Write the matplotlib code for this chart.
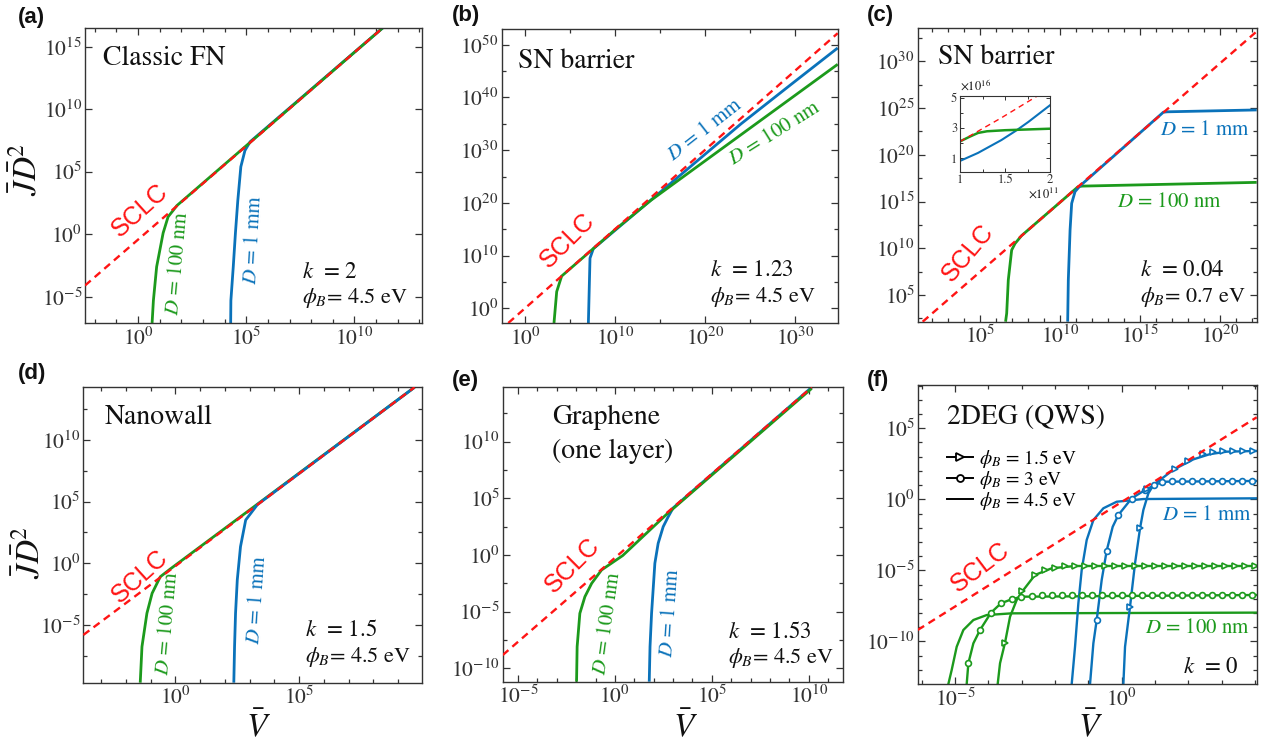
import numpy as np
import matplotlib
matplotlib.use('Agg')
import matplotlib.pyplot as plt
from matplotlib.lines import Line2D
from matplotlib.ticker import FixedLocator, FuncFormatter, NullFormatter

plt.rcParams['font.family'] = 'STIXGeneral'
plt.rcParams['mathtext.fontset'] = 'stix'

BLUE = '#0a72ba'
GREEN = '#1c9a1c'
RED = '#ff1414'
INK = '#111111'
TICK = '#333333'

# all curve values below are log10(V) / log10(J D^2)

# (a) classic FN, k = 2
a_sclc_x = [-2.45, 11.3]
a_sclc_y = [-4.1, 16.5]
a_green_x = [0.65, 0.71, 0.86, 1.16, 1.39, 1.62, 1.80, 11.3]
a_green_y = [-7.1, -5.3, -2.6, 0.1, 1.4, 1.9, 2.3, 16.5]
a_blue_x = [4.28, 4.29, 4.40, 4.50, 4.61, 4.75, 4.94, 5.18, 11.3]
a_blue_y = [-7.1, -5.3, -2.6, 0.1, 2.7, 5.4, 6.7, 7.4, 16.5]

# (b) SN barrier, k = 1.23
b_sclc_x = [-1.86, 34.74]
b_sclc_y = [-2.8, 52.2]
b_green_x = [3.22, 3.52, 4.07, 10.0, 14.0, 34.74]
b_green_y = [-2.8, 3.15, 6.1, 14.9, 20.5, 46.3]
b_blue_x = [7.04, 7.22, 7.59, 24.0, 29.5, 34.74]
b_blue_y = [-2.8, 9.5, 11.3, 35.0, 42.4, 49.4]

# (c) SN barrier, k = 0.04
c_sclc_x = [1.42, 22.29]
c_sclc_y = [2.14, 33.2]
c_green_x = [6.6, 6.67, 6.77, 6.98, 7.19, 7.6, 11.14, 11.4, 22.29]
c_green_y = [2.14, 3.04, 6.6, 9.8, 10.5, 11.35, 16.6, 16.65, 17.05]
c_blue_x = [10.48, 10.52, 10.63, 10.73, 10.94, 11.25, 16.46, 16.7, 22.29]
c_blue_y = [2.14, 6.6, 11.96, 14.8, 16.06, 16.67, 24.56, 24.6, 24.8]

# (c) inset, linear units (x 1e11, y 1e16)
ins_sclc_x = [1.0, 1.46, 1.87]
ins_sclc_y = [2.1, 3.67, 5.15]
ins_green_x = [1.0, 1.1, 1.2, 1.3, 1.5, 2.0]
ins_green_y = [2.11, 2.4, 2.67, 2.78, 2.85, 2.95]
ins_blue_x = [1.0, 1.2, 1.46, 1.63, 1.76, 2.0]
ins_blue_y = [0.82, 1.35, 2.2, 2.85, 3.4, 4.5]

# (d) nanowall, k = 1.5
d_sclc_x = [-3.72, 9.66]
d_sclc_y = [-5.81, 14.27]
d_green_x = [-1.42, -1.35, -1.15, -0.94, -0.61, -0.2, 9.66]
d_green_y = [-9.68, -6.76, -4.05, -2.43, -1.09, -0.45, 14.27]
d_blue_x = [2.36, 2.39, 2.43, 2.5, 2.63, 2.84, 3.31, 9.66]
d_blue_y = [-9.68, -6.76, -4.05, -1.35, 1.35, 3.51, 4.75, 14.27]

# (e) graphene, k = 1.53
e_sclc_x = [-5.79, 10.15]
e_sclc_y = [-8.83, 14.8]
e_green_x = [-1.98, -1.95, -1.81, -1.55, -1.2, -0.69, -0.2, 0.4, 2.67, 10.15]
e_green_y = [-11.18, -8.09, -5.15, -3.68, -2.5, -1.32, -0.75, -0.05, 3.6, 14.7]
e_blue_x = [1.77, 1.81, 1.89, 2.06, 2.23, 2.49, 2.75, 3.0, 10.15]
e_blue_y = [-11.18, -8.09, -5.15, -0.73, 1.03, 2.5, 3.38, 4.15, 14.8]

# (f) 2DEG (QWS), k = 0
f_sclc_x = [-6.12, 4.05]
f_sclc_y = [-9.19, 5.77]
# D = 1 mm
f_b45_x = [-1.5, -1.4, -1.3, -1.2, -1.05, -0.85, -0.55, -0.15, 0.65, 4.05]
f_b45_y = [-12.99, -10.37, -7.31, -4.97, -2.86, -1.46, -0.63, -0.17, 0.02, 0.07]
f_b30_x = [-0.95, -0.85, -0.75, -0.6, -0.45, -0.27, -0.1, 0.3, 0.7, 1.05, 1.35, 4.05]
f_b30_y = [-12.99, -10.13, -8.49, -5.67, -3.61, -1.93, -1.1, 0.07, 0.65, 1.08, 1.24, 1.29]
f_b30_mx = [-0.75, -0.45, -0.1, 0.3, 0.7, 0.98, 1.2, 1.5, 1.8, 2.1, 2.4, 2.7, 3.0, 3.3, 3.6, 3.9]
f_b30_my = [-8.49, -3.61, -1.1, 0.05, 0.65, 1.0, 1.2, 1.27, 1.29, 1.29, 1.29, 1.29, 1.29, 1.29, 1.29, 1.29]
f_b15_x = [0.05, 0.1, 0.25, 0.4, 0.55, 0.65, 0.8, 0.95, 1.55, 2.15, 2.65, 3.15, 4.05]
f_b15_y = [-12.99, -10.37, -7.55, -4.5, -2.04, -0.75, 0.42, 1.0, 2.08, 2.81, 3.18, 3.35, 3.4]
f_b15_mx = [0.25, 0.55, 0.75, 1.6, 2.0, 2.45, 2.75, 3.05, 3.35, 3.65, 3.95]
f_b15_my = [-7.55, -2.04, 0.7, 2.11, 2.71, 3.18, 3.3, 3.38, 3.4, 3.4, 3.4]
# D = 100 nm
f_g45_x = [-5.2, -5.1, -4.95, -4.75, -4.45, -4.05, -3.3, 4.05]
f_g45_y = [-12.99, -12.0, -10.37, -9.19, -8.49, -8.14, -8.02, -7.97]
f_g30_x = [-4.65, -4.6, -4.45, -4.25, -3.92, -3.62, -3.3, -3.0, 4.05]
f_g30_y = [-12.99, -11.53, -10.13, -9.19, -7.97, -7.31, -7.03, -6.85, -6.73]
f_g30_mx = [-4.6, -4.25, -3.92, -3.62, -3.3, -3.02, -2.7, -2.4, -2.1, -1.8, -1.5, -1.2,
            -0.9, -0.6, -0.3, 0.0, 0.3, 0.6, 0.9, 1.2, 1.5, 1.8, 2.1, 2.4, 2.7, 3.0,
            3.3, 3.6, 3.9]
f_g30_my = [-11.53, -9.19, -7.97, -7.31, -7.03, -6.85, -6.78, -6.76, -6.75, -6.74, -6.73,
            -6.73, -6.73, -6.73, -6.73, -6.73, -6.73, -6.73, -6.73, -6.73, -6.73, -6.73,
            -6.73, -6.73, -6.73, -6.73, -6.73, -6.73, -6.73]
f_g15_x = [-3.72, -3.65, -3.5, -3.35, -3.15, -2.95, -2.6, -2.1, -1.4, 4.05]
f_g15_y = [-12.99, -11.53, -10.08, -8.26, -7.08, -6.38, -5.32, -4.85, -4.69, -4.69]
f_g15_mx = [-3.5, -2.98, -2.6, -2.3, -2.0, -1.7, -1.4, -1.1, -0.8, -0.5, -0.2, 0.1, 0.4,
            0.7, 1.0, 1.3, 1.6, 1.9, 2.2, 2.5, 2.8, 3.1, 3.4, 3.7, 4.0]
f_g15_my = [-10.08, -6.43, -5.32, -5.0, -4.8, -4.72, -4.69, -4.69, -4.69, -4.69, -4.69,
            -4.69, -4.69, -4.69, -4.69, -4.69, -4.69, -4.69, -4.69, -4.69, -4.69, -4.69,
            -4.69, -4.69, -4.69]

W, H = 1267.0, 750.0


def box(l, t, r, b):
    return [l / W, 1 - b / H, (r - l) / W, (b - t) / H]


def lg(v):
    return np.power(10.0, np.asarray(v, dtype=float))


def fmt(v, pos):
    return r'$10^{%d}$' % int(round(np.log10(v)))


def setup(ax, xlim, ylim, xstep, xminor, ystep, yminor):
    ax.set_xscale('log')
    ax.set_yscale('log')
    ax.set_xlim(lg(xlim[0]), lg(xlim[1]))
    ax.set_ylim(lg(ylim[0]), lg(ylim[1]))
    xm = np.arange(np.ceil(xlim[0] / xstep) * xstep, xlim[1], xstep)
    ym = np.arange(np.ceil(ylim[0] / ystep) * ystep, ylim[1], ystep)
    ax.xaxis.set_major_locator(FixedLocator(lg(xm)))
    ax.yaxis.set_major_locator(FixedLocator(lg(ym)))
    if xminor:
        ax.xaxis.set_minor_locator(FixedLocator(lg(np.arange(np.ceil(xlim[0] / xminor) * xminor, xlim[1], xminor))))
    else:
        ax.xaxis.set_minor_locator(FixedLocator([]))
    if yminor:
        ax.yaxis.set_minor_locator(FixedLocator(lg(np.arange(np.ceil(ylim[0] / yminor) * yminor, ylim[1], yminor))))
    else:
        ax.yaxis.set_minor_locator(FixedLocator([]))
    ax.xaxis.set_major_formatter(FuncFormatter(fmt))
    ax.yaxis.set_major_formatter(FuncFormatter(fmt))
    ax.xaxis.set_minor_formatter(NullFormatter())
    ax.yaxis.set_minor_formatter(NullFormatter())
    ax.tick_params(which='both', direction='in', top=True, right=True, colors=TICK,
                   labelcolor=TICK, labelsize=15.5, width=0.9)
    ax.tick_params(which='major', length=5)
    ax.tick_params(which='minor', length=3)
    ax.tick_params(axis='y', pad=2)
    ax.tick_params(axis='x', pad=3)
    for s in ax.spines.values():
        s.set_color(TICK)
        s.set_linewidth(1.0)


def curve(ax, x, y, color):
    ax.plot(lg(x), lg(y), color=color, lw=2.0, solid_capstyle='butt')


def sclc(ax, x, y):
    ax.plot(lg(x), lg(y), color=RED, lw=1.7, ls=(0, (3.2, 2.2)), zorder=5)


def note(ax, x, y, s, **kw):
    kw.setdefault('color', INK)
    ax.text(x, y, s, transform=ax.transAxes, **kw)


def kphi(ax, x, y0, y1, k, phi):
    note(ax, x, y0, r'$k$  = ' + k, fontsize=16.5, va='center')
    note(ax, x, y1, r'$\phi_{B}$= ' + phi + ' eV', fontsize=16, va='center')


def sclc_label(ax, x, y, rot):
    note(ax, x, y, 'SCLC', color=RED, fontsize=18, family='Liberation Sans',
         rotation=rot, ha='center', va='center', rotation_mode='anchor')


def dlabel(ax, x, y, s, color, rot=0, ha='center'):
    note(ax, x, y, r'$D$ = ' + s, color=color, fontsize=15, rotation=rot,
         ha=ha, va='center', rotation_mode='anchor')


fig = plt.figure(figsize=(12.67, 7.5), dpi=100)

# ---- (a)
ax = fig.add_axes(box(85, 28, 422, 323))
setup(ax, (-2.45, 13.12), (-7.1, 16.5), 5, 1, 5, None)
curve(ax, a_blue_x, a_blue_y, BLUE)
curve(ax, a_green_x, a_green_y, GREEN)
sclc(ax, a_sclc_x, a_sclc_y)
note(ax, 0.053, 0.898, 'Classic FN', fontsize=20, va='center')
kphi(ax, 0.644, 0.173, 0.085, '2', '4.5')
dlabel(ax, 0.276, 0.203, '100 nm', GREEN, 85)
dlabel(ax, 0.499, 0.281, '1 mm', BLUE, 87)
sclc_label(ax, 0.163, 0.383, 42)

# ---- (b)
ax = fig.add_axes(box(501.7, 29, 837.7, 323))
setup(ax, (-2.59, 34.74), (-2.8, 53.0), 10, 5, 10, 5)
curve(ax, b_blue_x, b_blue_y, BLUE)
curve(ax, b_green_x, b_green_y, GREEN)
sclc(ax, b_sclc_x, b_sclc_y)
note(ax, 0.0485, 0.888, 'SN barrier', fontsize=20, va='center')
kphi(ax, 0.62, 0.18, 0.088, '1.23', '4.5')
dlabel(ax, 0.605, 0.656, '1 mm', BLUE, 38)
dlabel(ax, 0.813, 0.646, '100 nm', GREEN, 32)
sclc_label(ax, 0.197, 0.282, 45)

# ---- (c)
ax = fig.add_axes(box(917.7, 27.7, 1256.7, 321.7))
setup(ax, (1.11, 22.29), (2.14, 33.6), 5, 1, 5, 2.5)
curve(ax, c_green_x, c_green_y, GREEN)
curve(ax, c_blue_x, c_blue_y, BLUE)
sclc(ax, c_sclc_x, c_sclc_y)
note(ax, 0.06, 0.9, 'SN barrier', fontsize=20, va='center')
kphi(ax, 0.656, 0.176, 0.084, '0.04', '0.7')
dlabel(ax, 0.715, 0.652, '1 mm', BLUE, ha='left')
dlabel(ax, 0.588, 0.407, '100 nm', GREEN, ha='left')
sclc_label(ax, 0.148, 0.234, 50)

ins = fig.add_axes(box(960, 95.7, 1050, 171.7))
ins.plot(ins_blue_x, ins_blue_y, color=BLUE, lw=1.5)
ins.plot(ins_green_x, ins_green_y, color=GREEN, lw=1.8)
ins.plot(ins_sclc_x, ins_sclc_y, color=RED, lw=1.0, ls=(0, (4, 3)))
ins.set_xlim(1, 2)
ins.set_ylim(0.11, 5.13)
ins.set_xticks([1, 1.5, 2])
ins.set_xticklabels(['1', '1.5', '2'])
ins.set_yticks([1, 3, 5])
ins.set_yticklabels(['1', '3', '5'])
ins.xaxis.set_minor_locator(FixedLocator([1.25, 1.75]))
ins.yaxis.set_minor_locator(FixedLocator([2, 4]))
ins.tick_params(which='both', direction='in', top=True, right=True, labelsize=9,
                colors=TICK, labelcolor=TICK, width=0.7, pad=2)
ins.tick_params(which='major', length=3)
ins.tick_params(which='minor', length=2)
for s in ins.spines.values():
    s.set_color(TICK)
    s.set_linewidth(0.8)
note(ins, 0.0, 1.03, r'$\times$10$^{16}$', fontsize=9, va='bottom')
note(ins, 0.75, -0.28, r'$\times$10$^{11}$', fontsize=9, va='center')

# ---- (d)
ax = fig.add_axes(box(83.3, 387.3, 421.7, 682.7))
setup(ax, (-3.72, 9.95), (-9.68, 14.27), 5, 1, 5, 2.5)
curve(ax, d_green_x, d_green_y, GREEN)
curve(ax, d_blue_x, d_blue_y, BLUE)
sclc(ax, d_sclc_x, d_sclc_y)
note(ax, 0.064, 0.899, 'Nanowall', fontsize=20, va='center')
kphi(ax, 0.655, 0.178, 0.087, '1.5', '4.5')
dlabel(ax, 0.25, 0.202, '100 nm', GREEN, 85)
dlabel(ax, 0.513, 0.28, '1 mm', BLUE, 86)
sclc_label(ax, 0.168, 0.358, 42)

# ---- (e)
ax = fig.add_axes(box(502.7, 387.3, 842.7, 681.7))
setup(ax, (-5.79, 11.75), (-11.18, 14.8), 5, 1, 5, 2.5)
curve(ax, e_blue_x, e_blue_y, BLUE)
curve(ax, e_green_x, e_green_y, GREEN)
sclc(ax, e_sclc_x, e_sclc_y)
note(ax, 0.145, 0.899, 'Graphene', fontsize=20, va='center')
note(ax, 0.145, 0.783, '(one layer)', fontsize=20, va='center')
kphi(ax, 0.663, 0.169, 0.08, '1.53', '4.5')
dlabel(ax, 0.307, 0.2, '100 nm', GREEN, 82)
dlabel(ax, 0.492, 0.234, '1 mm', BLUE, 86)
sclc_label(ax, 0.204, 0.396, 45)

# ---- (f)
ax = fig.add_axes(box(917.7, 385, 1256.7, 684))
setup(ax, (-6.12, 4.05), (-12.99, 8.04), 5, 1, 5, 1)
for xs, ys, c in [(f_g45_x, f_g45_y, GREEN), (f_g30_x, f_g30_y, GREEN),
                  (f_g15_x, f_g15_y, GREEN), (f_b45_x, f_b45_y, BLUE),
                  (f_b30_x, f_b30_y, BLUE), (f_b15_x, f_b15_y, BLUE)]:
    ax.plot(lg(xs), lg(ys), color=c, lw=1.7)
for xs, ys, c, m, ms in [(f_g30_mx, f_g30_my, GREEN, 'o', 4.2),
                         (f_g15_mx, f_g15_my, GREEN, '>', 4.8),
                         (f_b30_mx, f_b30_my, BLUE, 'o', 4.2),
                         (f_b15_mx, f_b15_my, BLUE, '>', 4.8)]:
    ax.plot(lg(xs), lg(ys), ls='none', marker=m, ms=ms, mfc='white', mec=c, mew=1.2)
sclc(ax, f_sclc_x, f_sclc_y)
note(ax, 0.086, 0.89, '2DEG (QWS)', fontsize=20, va='center')
note(ax, 0.783, 0.057, r'$k$  = 0', fontsize=16.5, va='center')
dlabel(ax, 0.721, 0.565, '1 mm', BLUE, ha='left')
dlabel(ax, 0.671, 0.187, '100 nm', GREEN, ha='left')
sclc_label(ax, 0.184, 0.391, 37)
handles = [Line2D([], [], color='k', lw=1.4, marker='>', ms=5.5, mfc='white', mew=1.3),
           Line2D([], [], color='k', lw=1.4, marker='o', ms=5, mfc='white', mew=1.3),
           Line2D([], [], color='k', lw=1.4)]
labels = [r'$\phi_{B}$ = 1.5 eV', r'$\phi_{B}$ = 3 eV', r'$\phi_{B}$ = 4.5 eV']
leg = ax.legend(handles, labels, loc='upper left', bbox_to_anchor=(0.085, 0.79),
                frameon=False, fontsize=14, handlelength=1.35, handletextpad=0.3,
                labelspacing=-0.05, borderpad=0.0, borderaxespad=0.0)

# ---- panel letters and axis labels
for s, x, y in [('(a)', 18, 17), ('(b)', 452, 15), ('(c)', 867, 15),
                ('(d)', 18, 373), ('(e)', 452, 380), ('(f)', 867, 380)]:
    fig.text(x / W, 1 - y / H, s, fontsize=16, fontweight='bold',
             family='Liberation Sans', va='center', ha='left', color=INK)

for x, y in [(27, 170), (30, 553)]:
    fig.text(x / W, 1 - y / H, r'$\bar{J}\bar{D}^2$', fontsize=24, rotation=90,
             ha='center', va='center', color=INK)
for x in [258, 685, 1090]:
    fig.text(x / W, 1 - 727 / H, r'$\bar{V}$', fontsize=24, ha='center',
             va='center', color=INK)

fig.savefig('out.png', dpi=100)
